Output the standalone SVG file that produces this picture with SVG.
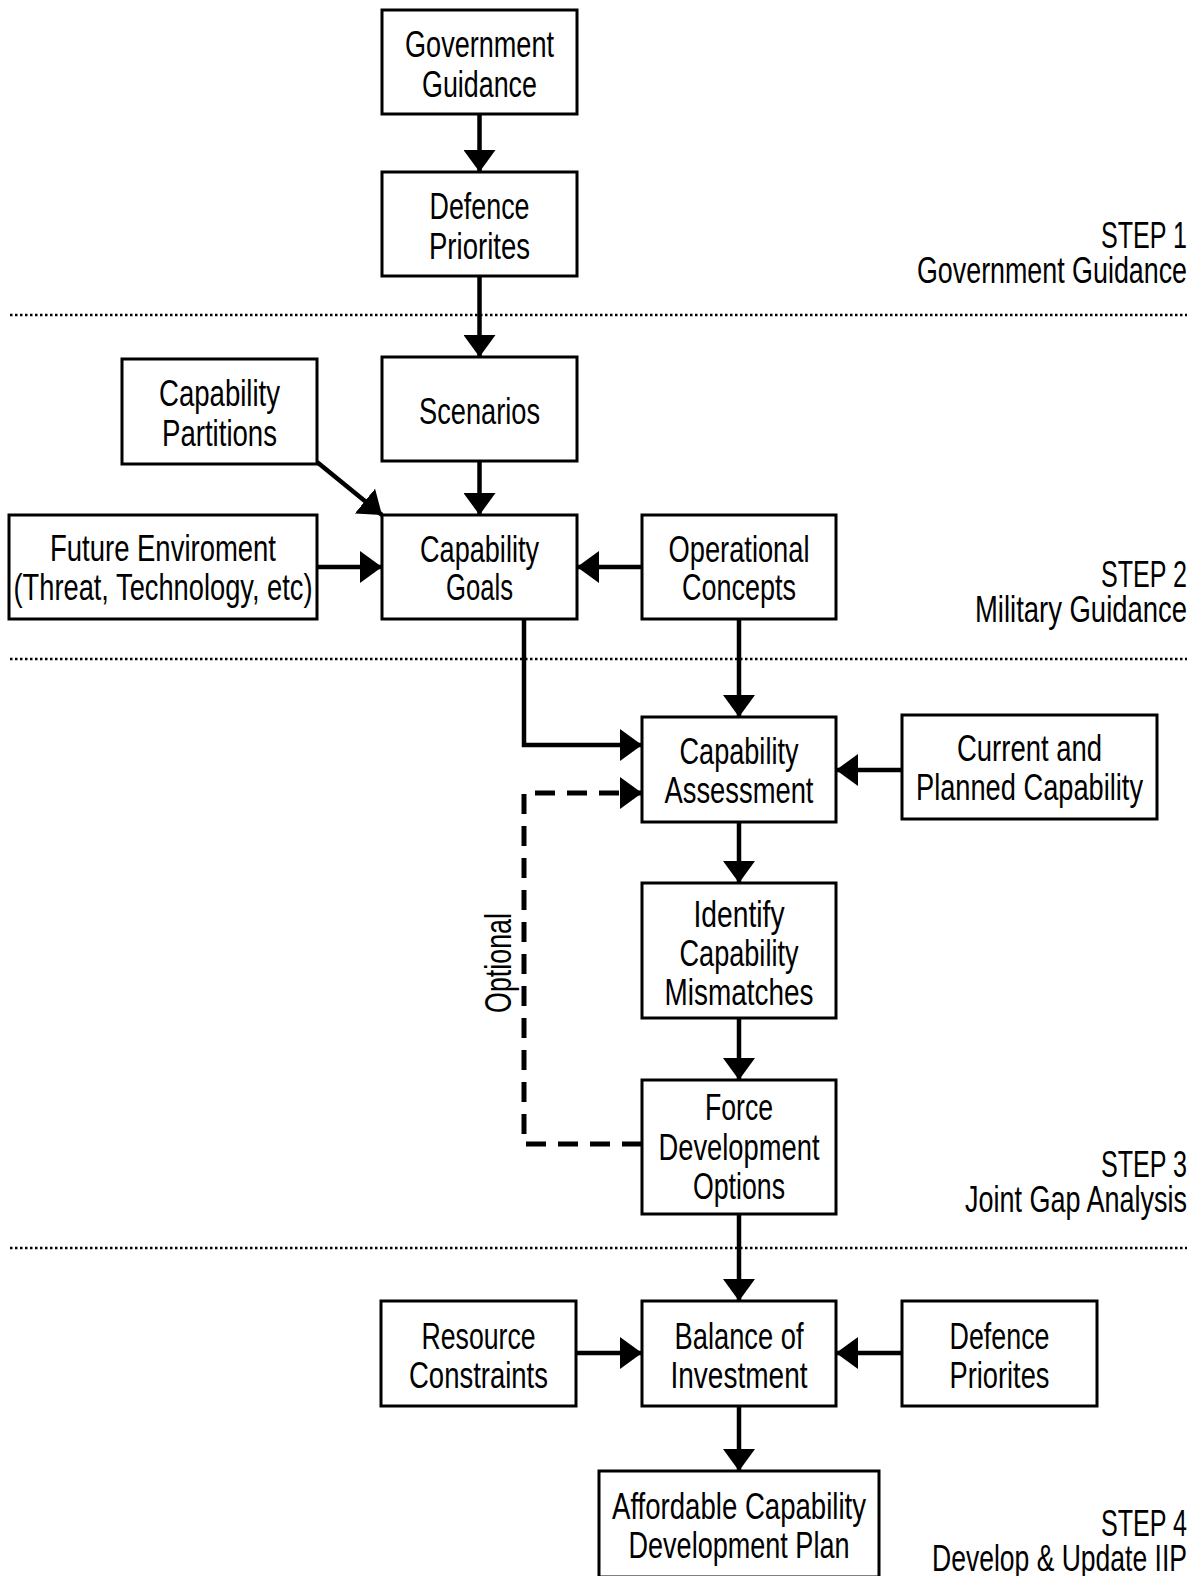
<svg xmlns="http://www.w3.org/2000/svg" width="1197" height="1576" viewBox="0 0 1197 1576">
<style>
.box{fill:#fff;stroke:#000;stroke-width:3}
.t{font-family:"Liberation Sans",Arial,sans-serif;font-size:37px;fill:#000;text-anchor:middle}
.s{font-family:"Liberation Sans",Arial,sans-serif;font-size:37px;fill:#000;text-anchor:end}
.c{stroke:#000;stroke-width:4.5;fill:none}
.d{stroke:#000;stroke-width:5;fill:none;stroke-dasharray:20 12}
.dot{stroke:#000;stroke-width:2.5;stroke-dasharray:2.5 2.5}
</style>
<defs>
<marker id="ah" markerUnits="userSpaceOnUse" markerWidth="24" markerHeight="32" refX="22" refY="16" orient="auto">
<path d="M0,0 L22,16 L0,32 z" fill="#000"/>
</marker>
</defs>
<rect width="1197" height="1576" fill="#fff"/>
<g id="separators">
<line class="dot" x1="10" y1="315" x2="1187" y2="315"/>
<line class="dot" x1="10" y1="659" x2="1187" y2="659"/>
<line class="dot" x1="10" y1="1248" x2="1187" y2="1248"/>
</g>
<g id="connectors">
<line class="c" x1="479.5" y1="114" x2="479.5" y2="172" marker-end="url(#ah)"/>
<line class="c" x1="479.5" y1="276" x2="479.5" y2="357" marker-end="url(#ah)"/>
<line class="c" x1="479.5" y1="461" x2="479.5" y2="515" marker-end="url(#ah)"/>
<line class="c" x1="317" y1="462" x2="382" y2="515" marker-end="url(#ah)"/>
<line class="c" x1="317" y1="567" x2="382" y2="567" marker-end="url(#ah)"/>
<line class="c" x1="642" y1="567" x2="577" y2="567" marker-end="url(#ah)"/>
<polyline class="c" points="524,619 524,745 642,745" marker-end="url(#ah)"/>
<line class="c" x1="739" y1="619" x2="739" y2="717" marker-end="url(#ah)"/>
<line class="c" x1="902" y1="770" x2="836" y2="770" marker-end="url(#ah)"/>
<polyline class="d" points="642,1144 524,1144 524,793 642,793" marker-end="url(#ah)"/>
<line class="c" x1="739" y1="822" x2="739" y2="883" marker-end="url(#ah)"/>
<line class="c" x1="739" y1="1018" x2="739" y2="1080" marker-end="url(#ah)"/>
<line class="c" x1="739" y1="1214" x2="739" y2="1301" marker-end="url(#ah)"/>
<line class="c" x1="576" y1="1353" x2="642" y2="1353" marker-end="url(#ah)"/>
<line class="c" x1="902" y1="1353" x2="836" y2="1353" marker-end="url(#ah)"/>
<line class="c" x1="739" y1="1406" x2="739" y2="1471" marker-end="url(#ah)"/>
<text class="t" transform="translate(511,963) rotate(-90) scale(0.73,1)" font-size="34" textLength="137" lengthAdjust="spacingAndGlyphs">Optional</text>
</g>
<g id="n-gov">
<rect class="box" x="382" y="10" width="195" height="104"/>
<text class="t" transform="translate(479.5,57) scale(0.73,1)" textLength="204" lengthAdjust="spacingAndGlyphs">Government</text>
<text class="t" transform="translate(479.5,97) scale(0.73,1)" textLength="157.5" lengthAdjust="spacingAndGlyphs">Guidance</text>
</g>
<g id="n-def1">
<rect class="box" x="382" y="172" width="195" height="104"/>
<text class="t" transform="translate(479.5,219) scale(0.73,1)" textLength="137" lengthAdjust="spacingAndGlyphs">Defence</text>
<text class="t" transform="translate(479.5,259) scale(0.73,1)" textLength="138.4" lengthAdjust="spacingAndGlyphs">Priorites</text>
</g>
<g id="n-scen">
<rect class="box" x="382" y="357" width="195" height="104"/>
<text class="t" transform="translate(479.5,424) scale(0.73,1)" textLength="165.8" lengthAdjust="spacingAndGlyphs">Scenarios</text>
</g>
<g id="n-part">
<rect class="box" x="122" y="359" width="195" height="105"/>
<text class="t" transform="translate(219.5,406) scale(0.73,1)" textLength="165.8" lengthAdjust="spacingAndGlyphs">Capability</text>
<text class="t" transform="translate(219.5,446) scale(0.73,1)" textLength="157.5" lengthAdjust="spacingAndGlyphs">Partitions</text>
</g>
<g id="n-future">
<rect class="box" x="9" y="515" width="308" height="104"/>
<text class="t" transform="translate(163,561) scale(0.73,1)" textLength="309.6" lengthAdjust="spacingAndGlyphs">Future Enviroment</text>
<text class="t" transform="translate(163,600) scale(0.73,1)" textLength="409.6" lengthAdjust="spacingAndGlyphs">(Threat, Technology, etc)</text>
</g>
<g id="n-goals">
<rect class="box" x="382" y="515" width="195" height="104"/>
<text class="t" transform="translate(479.5,562) scale(0.73,1)" textLength="163" lengthAdjust="spacingAndGlyphs">Capability</text>
<text class="t" transform="translate(479.5,600) scale(0.73,1)" textLength="91.8" lengthAdjust="spacingAndGlyphs">Goals</text>
</g>
<g id="n-ops">
<rect class="box" x="642" y="515" width="194" height="104"/>
<text class="t" transform="translate(739,562) scale(0.73,1)" textLength="193.2" lengthAdjust="spacingAndGlyphs">Operational</text>
<text class="t" transform="translate(739,600) scale(0.73,1)" textLength="156.2" lengthAdjust="spacingAndGlyphs">Concepts</text>
</g>
<g id="n-assess">
<rect class="box" x="642" y="717" width="194" height="105"/>
<text class="t" transform="translate(739,764) scale(0.73,1)" textLength="163" lengthAdjust="spacingAndGlyphs">Capability</text>
<text class="t" transform="translate(739,803) scale(0.73,1)" textLength="204" lengthAdjust="spacingAndGlyphs">Assessment</text>
</g>
<g id="n-current">
<rect class="box" x="902" y="715" width="255" height="104"/>
<text class="t" transform="translate(1029.5,761) scale(0.73,1)" textLength="198.6" lengthAdjust="spacingAndGlyphs">Current and</text>
<text class="t" transform="translate(1029.5,800) scale(0.73,1)" textLength="311" lengthAdjust="spacingAndGlyphs">Planned Capability</text>
</g>
<g id="n-identify">
<rect class="box" x="642" y="883" width="194" height="135"/>
<text class="t" transform="translate(739,927) scale(0.73,1)" textLength="124.7" lengthAdjust="spacingAndGlyphs">Identify</text>
<text class="t" transform="translate(739,966) scale(0.73,1)" textLength="163" lengthAdjust="spacingAndGlyphs">Capability</text>
<text class="t" transform="translate(739,1005) scale(0.73,1)" textLength="204" lengthAdjust="spacingAndGlyphs">Mismatches</text>
</g>
<g id="n-force">
<rect class="box" x="642" y="1080" width="194" height="134"/>
<text class="t" transform="translate(739,1120) scale(0.73,1)" textLength="93.2" lengthAdjust="spacingAndGlyphs">Force</text>
<text class="t" transform="translate(739,1160) scale(0.73,1)" textLength="220.5" lengthAdjust="spacingAndGlyphs">Development</text>
<text class="t" transform="translate(739,1199) scale(0.73,1)" textLength="126" lengthAdjust="spacingAndGlyphs">Options</text>
</g>
<g id="n-resource">
<rect class="box" x="381" y="1301" width="195" height="105"/>
<text class="t" transform="translate(478.5,1349) scale(0.73,1)" textLength="156.2" lengthAdjust="spacingAndGlyphs">Resource</text>
<text class="t" transform="translate(478.5,1388) scale(0.73,1)" textLength="190.4" lengthAdjust="spacingAndGlyphs">Constraints</text>
</g>
<g id="n-balance">
<rect class="box" x="642" y="1301" width="194" height="105"/>
<text class="t" transform="translate(739,1349) scale(0.73,1)" textLength="176.7" lengthAdjust="spacingAndGlyphs">Balance of</text>
<text class="t" transform="translate(739,1388) scale(0.73,1)" textLength="187.7" lengthAdjust="spacingAndGlyphs">Investment</text>
</g>
<g id="n-def2">
<rect class="box" x="902" y="1301" width="195" height="105"/>
<text class="t" transform="translate(999.5,1349) scale(0.73,1)" textLength="137" lengthAdjust="spacingAndGlyphs">Defence</text>
<text class="t" transform="translate(999.5,1388) scale(0.73,1)" textLength="137" lengthAdjust="spacingAndGlyphs">Priorites</text>
</g>
<g id="n-afford">
<rect class="box" x="599" y="1471" width="280" height="106"/>
<text class="t" transform="translate(739,1519) scale(0.73,1)" textLength="347.9" lengthAdjust="spacingAndGlyphs">Affordable Capability</text>
<text class="t" transform="translate(739,1558) scale(0.73,1)" textLength="302.7" lengthAdjust="spacingAndGlyphs">Development Plan</text>
</g>
<g id="steps">
<text class="s" transform="translate(1187,248) scale(0.73,1)" textLength="117.8" lengthAdjust="spacingAndGlyphs">STEP 1</text>
<text class="s" transform="translate(1187,283) scale(0.73,1)" textLength="369.9" lengthAdjust="spacingAndGlyphs">Government Guidance</text>
<text class="s" transform="translate(1187,587) scale(0.73,1)" textLength="117.8" lengthAdjust="spacingAndGlyphs">STEP 2</text>
<text class="s" transform="translate(1187,622) scale(0.73,1)" textLength="290.4" lengthAdjust="spacingAndGlyphs">Military Guidance</text>
<text class="s" transform="translate(1187,1177) scale(0.73,1)" textLength="117.8" lengthAdjust="spacingAndGlyphs">STEP 3</text>
<text class="s" transform="translate(1187,1212) scale(0.73,1)" textLength="304.1" lengthAdjust="spacingAndGlyphs">Joint Gap Analysis</text>
<text class="s" transform="translate(1187,1536) scale(0.73,1)" textLength="117.8" lengthAdjust="spacingAndGlyphs">STEP 4</text>
<text class="s" transform="translate(1187,1571) scale(0.73,1)" textLength="349.3" lengthAdjust="spacingAndGlyphs">Develop &amp; Update IIP</text>
</g>
</svg>
